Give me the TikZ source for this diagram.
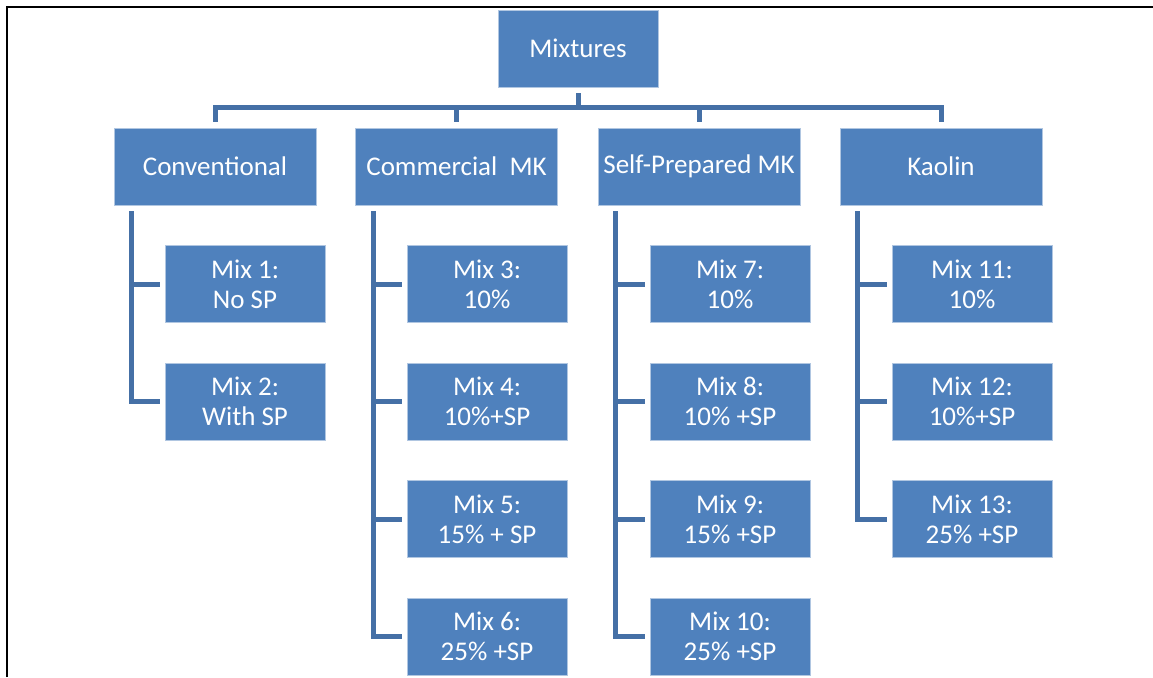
\documentclass[tikz,border=0pt]{standalone}
\usepackage{fontspec}
\setmainfont{Carlito}
\definecolor{boxblue}{HTML}{4F81BD}
\definecolor{lineblue}{HTML}{4570A6}
\tikzset{
  topbox/.style={fill=boxblue,draw=boxblue!45!white,line width=0.8pt,text=white,
    minimum width=202pt,minimum height=77pt,inner sep=0pt,align=center,
    font=\fontsize{27}{30}\selectfont},
  mixbox/.style={topbox,minimum width=160pt},
  link/.style={draw=lineblue,line width=5pt},
}
\begin{document}
\begin{tikzpicture}[x=1pt,y=-1pt]
                \useasboundingbox (0,0) rectangle (1153,677);
                \draw[line width=2.3pt] (7,677)--(7,7)--(1153,7);
                % top level
                \node[mixbox] (mix) at (578,48.5) {Mixtures};
                \node[topbox] (conv) at (215,166.5) {Conventional};
                \node[topbox] (comm) at (456.5,166.5) {Commercial\ \ MK};
                \node[topbox] (self) at (699,166.5) {Self-Prepared MK};
                \node[topbox] (kao) at (941,166.5) {Kaolin};
                % mixes
                \node[mixbox] (m1) at (245,284) {Mix 1:\\No SP};
                \node[mixbox] (m2) at (245,401.5) {Mix 2:\\With SP};
                \node[mixbox] (m3) at (487,284) {Mix 3:\\10\%};
                \node[mixbox] (m4) at (487,401.5) {Mix 4:\\10\%+SP};
                \node[mixbox] (m5) at (487,519) {Mix 5:\\15\% + SP};
                \node[mixbox] (m6) at (487,636.5) {Mix 6:\\25\% +SP};
                \node[mixbox] (m7) at (730,284) {Mix 7:\\10\%};
                \node[mixbox] (m8) at (730,401.5) {Mix 8:\\10\% +SP};
                \node[mixbox] (m9) at (730,519) {Mix 9:\\15\% +SP};
                \node[mixbox] (m10) at (730,636.5) {Mix 10:\\25\% +SP};
                \node[mixbox] (m11) at (972,284) {Mix 11:\\10\%};
                \node[mixbox] (m12) at (972,401.5) {Mix 12:\\10\%+SP};
                \node[mixbox] (m13) at (972,519) {Mix 13:\\25\% +SP};
                % bus
                \coordinate (bus) at (578,107.5);
                \draw[link,shorten <=6pt] (mix.south)--(bus);
                \draw[link,shorten >=6pt] (bus)-|(conv.north);
                \draw[link,shorten >=6pt] (bus)-|(comm.north);
                \draw[link,shorten >=6pt] (bus)-|(self.north);
                \draw[link,shorten >=6pt] (bus)-|(kao.north);
                % branches
                \draw[link,shorten <=6pt,shorten >=5pt] ([xshift=18pt]conv.south west)|-(m1.west);
                \draw[link,shorten <=6pt,shorten >=5pt] ([xshift=18pt]conv.south west)|-(m2.west);
                \draw[link,shorten <=6pt,shorten >=5pt] ([xshift=18pt]comm.south west)|-(m3.west);
                \draw[link,shorten <=6pt,shorten >=5pt] ([xshift=18pt]comm.south west)|-(m4.west);
                \draw[link,shorten <=6pt,shorten >=5pt] ([xshift=18pt]comm.south west)|-(m5.west);
                \draw[link,shorten <=6pt,shorten >=5pt] ([xshift=18pt]comm.south west)|-(m6.west);
                \draw[link,shorten <=6pt,shorten >=5pt] ([xshift=18pt]self.south west)|-(m7.west);
                \draw[link,shorten <=6pt,shorten >=5pt] ([xshift=18pt]self.south west)|-(m8.west);
                \draw[link,shorten <=6pt,shorten >=5pt] ([xshift=18pt]self.south west)|-(m9.west);
                \draw[link,shorten <=6pt,shorten >=5pt] ([xshift=18pt]self.south west)|-(m10.west);
                \draw[link,shorten <=6pt,shorten >=5pt] ([xshift=18pt]kao.south west)|-(m11.west);
                \draw[link,shorten <=6pt,shorten >=5pt] ([xshift=18pt]kao.south west)|-(m12.west);
                \draw[link,shorten <=6pt,shorten >=5pt] ([xshift=18pt]kao.south west)|-(m13.west);
            \end{tikzpicture}
\end{document}
